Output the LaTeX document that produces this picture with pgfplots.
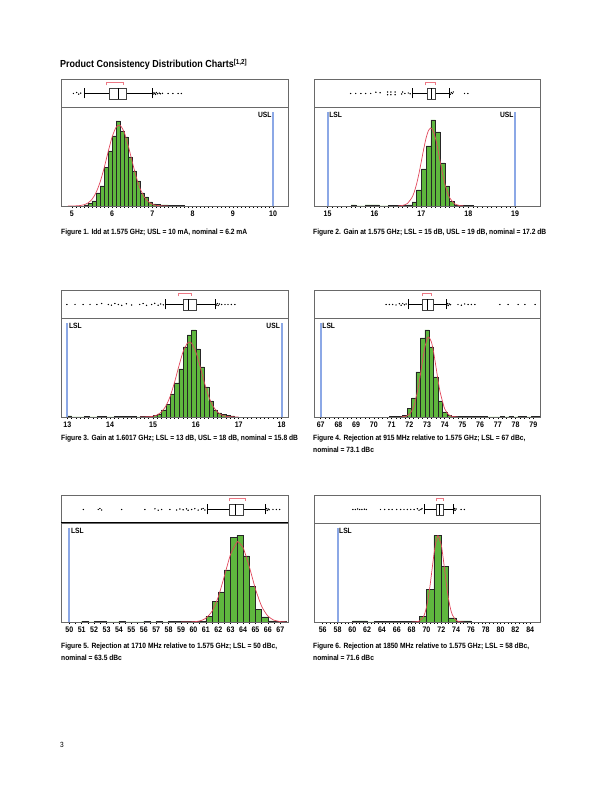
\documentclass[border=0pt]{standalone}
\usepackage{pgfplots}
\pgfplotsset{compat=1.18}
\usepgfplotslibrary{statistics}
\usepackage{fontspec}
\setmainfont{Liberation Sans}[FakeStretch=0.88]
\definecolor{barg}{RGB}{95,183,62}
\definecolor{curvered}{RGB}{226,72,92}
\definecolor{brkred}{RGB}{236,120,132}
\definecolor{specblue}{RGB}{140,168,230}
\definecolor{framegray}{RGB}{105,105,105}
\newcommand\capfont{\bfseries\fontsize{7.6}{9}\selectfont}
\tikzset{spl/.style={font=\bfseries\fontsize{7.6}{9}\selectfont, inner sep=1.5pt}}
\pgfplotsset{
  histax/.style={scale only axis, height=99pt, anchor=south west,
    ymin=0, ymax=99, ytick=\empty,
    axis line style={draw=framegray, line width=0.5pt},
    xtick pos=bottom, tick align=outside,
    major tick length=2.5pt, minor tick length=2pt,
    every tick/.style={black, line width=0.5pt},
    xticklabel style={font=\bfseries\fontsize{8}{9}\selectfont, inner sep=1pt, yshift=-1pt},
    /pgf/number format/assume math mode=true},
  boxax/.style={scale only axis, height=28pt, anchor=south west,
    ymin=0, ymax=28, ytick=\empty, xtick=\empty,
    axis line style={draw=framegray, line width=0.5pt}},
  bars/.style={ybar interval, fill=barg, draw=black!85, line width=0.4pt},
  fit/.style={curvered, line width=0.7pt, smooth, tension=0.4},
  spec/.style={draw=specblue, line width=2pt},
  outl/.style={only marks, mark=*, mark size=0.45pt, black},
  brk/.style={brkred, line width=0.6pt},
  bp/.style={draw=black!75, fill=white, line width=0.5pt,
    boxplot/every whisker/.style={draw=black, line width=1pt},
    boxplot/every median/.style={draw=black, line width=0.6pt}},
}
\begin{document}
\begin{tikzpicture}
\useasboundingbox (0,0) rectangle (612pt,792pt);
\fill[white] (0,0) rectangle (612pt,792pt);
\node[anchor=base west, font=\bfseries\fontsize{10.2}{12}\selectfont, inner sep=0] at (60pt,724pt) {Product Consistency Distribution Charts\textsuperscript{[1,2]}};
\node[anchor=base west, font=\fontsize{7.5}{9}\selectfont, inner sep=0] at (60pt,44pt) {3};

% ---------- Panel 1 ----------
\begin{axis}[histax, at={(61pt,586pt)}, width=227pt, xmin=4.73, xmax=10.37, xtick={5,...,10}, minor x tick num=9]
\addplot[bars] coordinates {(5.3,1) (5.4,2.3) (5.5,5) (5.6,13) (5.7,20) (5.8,38.7) (5.9,55) (6.0,70) (6.1,85) (6.2,75) (6.3,69) (6.4,49) (6.5,35) (6.6,25) (6.7,13) (6.8,9) (6.9,4) (7.0,2) (7.1,1.5) (7.2,1) (7.3,1) (7.4,0.7) (7.5,0.7) (7.6,0.6) (7.7,0.6) (7.8,0)};
\addplot[fit] coordinates {(4.9,0.01) (5.0,0.04) (5.1,0.14) (5.2,0.43) (5.3,1.22) (5.4,3.0) (5.5,6.7) (5.6,13.3) (5.7,23.7) (5.8,37.8) (5.9,54) (6.0,69) (6.1,78.8) (6.2,80.6) (6.3,73.8) (6.4,60.4) (6.5,44.2) (6.6,29) (6.7,17) (6.8,8.9) (6.9,4.2) (7.0,1.76) (7.1,0.66) (7.2,0.22) (7.3,0.07) (7.4,0.02)};
\addplot[spec] coordinates {(10,0) (10,94)};
\node[spl, anchor=north east] at (axis cs:10,95) {USL};
\draw[black, line width=0.8pt] (rel axis cs:0,0) -- (rel axis cs:1,0);
\end{axis}
\begin{axis}[boxax, at={(61pt,685pt)}, width=227pt, xmin=4.73, xmax=10.37]
\addplot[bp, boxplot prepared={draw direction=x, draw position=13.7, box extend=11, whisker extend=10, lower whisker=5.32, lower quartile=5.94, median=6.15, upper quartile=6.36, upper whisker=7.0}] coordinates {};
\addplot[outl] coordinates {(5.04,13.5) (5.12,14.5) (5.17,12.8) (5.22,13.8) (7.02,13) (7.04,14.2) (7.06,13.5) (7.08,12.6) (7.1,14.4) (7.13,13.3) (7.17,13.9) (7.2,13.2) (7.25,13.6) (7.39,13.5) (7.51,13.5) (7.64,13.5) (7.72,13.5)};
\addplot[brk] coordinates {(5.86,21.5) (5.86,24.7) (6.29,24.7) (6.29,21.5)};
\end{axis}
\node[anchor=base west, font=\capfont, inner sep=0] at (61pt,557pt) {Figure 1. Idd at 1.575 GHz; USL = 10 mA, nominal = 6.2 mA};

% ---------- Panel 2 ----------
\begin{axis}[histax, at={(314pt,586pt)}, width=226pt, xmin=14.71, xmax=19.53, xtick={15,...,19}, minor x tick num=9]
\addplot[bars] coordinates {(15.5,1) (15.6,0) (15.8,1) (15.9,1) (16.0,1) (16.1,0) (16.3,0.8) (16.4,0.8) (16.5,0.8) (16.6,0.8) (16.7,1.2) (16.8,4) (16.9,16) (17.0,37) (17.1,60) (17.2,86) (17.3,74) (17.4,43) (17.5,20) (17.6,4.5) (17.7,1.2) (17.8,0.8) (17.9,0.8) (18.0,0.8) (18.1,0)};
\addplot[fit] coordinates {(16.5,0.09) (16.6,0.53) (16.7,2.45) (16.8,8.5) (16.85,14.3) (16.9,22.4) (16.95,32.8) (17.0,44.8) (17.05,57.1) (17.1,67.9) (17.15,75.3) (17.2,78) (17.25,75.3) (17.3,67.9) (17.35,57.1) (17.4,44.8) (17.45,32.8) (17.5,22.4) (17.55,14.3) (17.6,8.5) (17.7,2.45) (17.8,0.53) (17.9,0.09)};
\addplot[spec] coordinates {(15,0) (15,94)};
\addplot[spec] coordinates {(19,0) (19,94)};
\node[spl, anchor=north west] at (axis cs:15,95) {LSL};
\node[spl, anchor=north east] at (axis cs:19,95) {USL};
\draw[black, line width=0.8pt] (rel axis cs:0,0) -- (rel axis cs:1,0);
\end{axis}
\begin{axis}[boxax, at={(314pt,685pt)}, width=226pt, xmin=14.71, xmax=19.53]
\addplot[bp, boxplot prepared={draw direction=x, draw position=13.7, box extend=11, whisker extend=10, lower whisker=16.81, lower quartile=17.115, median=17.21, upper quartile=17.30, upper whisker=17.60}] coordinates {};
\addplot[outl] coordinates {(15.49,13.5) (15.60,13.5) (15.71,13.5) (15.81,13.5) (15.92,13.5) (16.03,14.8) (16.12,14.3) (16.28,12.3) (16.28,15) (16.35,12.3) (16.35,15) (16.44,12.3) (16.44,15) (16.58,13) (16.6,15) (16.65,13.5) (16.72,14) (16.76,13.2) (17.62,12.8) (17.64,14.4) (17.66,13.5) (17.68,15) (17.92,13.5) (17.99,13.5)};
\addplot[brk] coordinates {(17.09,21.5) (17.09,24.7) (17.30,24.7) (17.30,21.5)};
\end{axis}
\node[anchor=base west, font=\capfont, inner sep=0] at (313pt,557pt) {Figure 2. Gain at 1.575 GHz; LSL = 15 dB, USL = 19 dB, nominal = 17.2 dB};

% ---------- Panel 3 ----------
\begin{axis}[histax, at={(61pt,375pt)}, width=227pt, xmin=12.853, xmax=18.15, xtick={13,...,18}, minor x tick num=9]
\addplot[bars] coordinates {(13.0,1) (13.1,0) (13.4,0.8) (13.5,0) (13.7,0.8) (13.8,0.8) (13.9,0) (14.1,0.6) (14.2,0.6) (14.3,0.6) (14.4,0.6) (14.5,0.6) (14.6,0) (14.7,0.8) (14.8,0.8) (14.9,0.8) (15.0,1.3) (15.1,3) (15.2,7) (15.3,12.5) (15.4,23) (15.5,34) (15.6,48) (15.7,70) (15.8,82) (15.9,87) (16.0,68) (16.1,50) (16.2,30) (16.3,16) (16.4,7) (16.5,4) (16.6,2.5) (16.7,1.3) (16.8,1) (16.9,0)};
\addplot[fit] coordinates {(14.7,0.02) (14.9,0.24) (15.0,0.75) (15.1,2.1) (15.2,5.1) (15.3,10.9) (15.4,20.6) (15.5,34.3) (15.6,50.3) (15.7,65) (15.8,73.8) (15.85,75) (15.9,73.8) (16.0,65) (16.1,50.3) (16.2,34.3) (16.3,20.6) (16.4,10.9) (16.5,5.1) (16.6,2.1) (16.7,0.75) (16.8,0.24) (17.0,0.02)};
\addplot[spec] coordinates {(13,0) (13,94)};
\addplot[spec] coordinates {(18,0) (18,94)};
\node[spl, anchor=north west] at (axis cs:13,95) {LSL};
\node[spl, anchor=north east] at (axis cs:18,95) {USL};
\draw[black, line width=0.8pt] (rel axis cs:0,0) -- (rel axis cs:1,0);
\end{axis}
\begin{axis}[boxax, at={(61pt,474pt)}, width=227pt, xmin=12.853, xmax=18.15]
\addplot[bp, boxplot prepared={draw direction=x, draw position=13.7, box extend=11, whisker extend=10, lower whisker=15.28, lower quartile=15.71, median=15.82, upper quartile=16.02, upper whisker=16.46}] coordinates {};
\addplot[outl] coordinates {(12.99,13.5) (13.18,13.5) (13.37,13.5) (13.53,13.5) (13.69,13.5) (13.80,14.5) (13.96,13.5) (14.03,12.8) (14.11,14.5) (14.19,13.5) (14.27,12.6) (14.38,14.2) (14.50,13) (14.69,13.5) (14.77,14.5) (14.85,12.6) (14.97,13.5) (15.04,14.6) (15.12,12.8) (15.18,14) (15.24,13.2) (16.48,13) (16.5,14.5) (16.52,12.6) (16.55,14) (16.60,13.5) (16.68,13.5) (16.75,13.5) (16.83,13.5) (16.91,13.5)};
\addplot[brk] coordinates {(15.58,21.5) (15.58,24.7) (15.89,24.7) (15.89,21.5)};
\end{axis}
\node[anchor=base west, font=\capfont, inner sep=0] at (61pt,351pt) {Figure 3. Gain at 1.6017 GHz; LSL = 13 dB, USL = 18 dB, nominal = 15.8 dB};

% ---------- Panel 4 ----------
\begin{axis}[histax, at={(314pt,375pt)}, width=226pt, xmin=66.62, xmax=79.38, xtick={67,...,79}, minor x tick num=3]
\addplot[bars] coordinates {(70.875,0.7) (71.125,0.7) (71.375,0.7) (71.625,1.7) (71.875,8.3) (72.125,19) (72.375,45) (72.625,79) (72.875,87) (73.125,70) (73.375,40) (73.625,16) (73.875,5) (74.125,1.7) (74.375,0.8) (74.625,0.8) (74.875,0.8) (75.125,0.8) (75.375,0.8) (75.625,0.8) (75.875,0.8) (76.125,0.8) (76.375,0) (77.125,0.8) (77.375,0) (77.625,0.8) (77.875,0) (78.125,0.8) (78.375,0.8) (78.625,0) (78.875,0.8) (79.125,0.8) (79.375,0)};
\addplot[fit] coordinates {(71.5,0.06) (71.75,0.46) (72.0,2.6) (72.25,10.3) (72.5,28.8) (72.625,42.2) (72.75,56.5) (72.875,69.3) (73.0,77.8) (73.1,80) (73.25,75) (73.375,64.6) (73.5,50.8) (73.625,36.6) (73.75,24.2) (74.0,8.1) (74.25,1.9) (74.5,0.3) (74.75,0.04)};
\addplot[spec] coordinates {(67,0) (67,94)};
\node[spl, anchor=north west] at (axis cs:67,95) {LSL};
\draw[black, line width=0.8pt] (rel axis cs:0,0) -- (rel axis cs:1,0);
\end{axis}
\begin{axis}[boxax, at={(314pt,474pt)}, width=226pt, xmin=66.62, xmax=79.38]
\addplot[bp, boxplot prepared={draw direction=x, draw position=13.7, box extend=11, whisker extend=10, lower whisker=71.95, lower quartile=72.71, median=73.01, upper quartile=73.33, upper whisker=74.09}] coordinates {};
\addplot[outl] coordinates {(70.69,13.5) (70.87,13.5) (71.06,13.5) (71.25,13) (71.44,14.3) (71.54,12.8) (71.63,14.5) (71.72,13.2) (71.82,14) (74.12,13) (74.16,14.5) (74.2,12.6) (74.26,14) (74.33,13.3) (74.75,13.5) (74.94,12.8) (75.13,14) (75.32,13.5) (75.51,13.5) (75.7,13.5) (77.11,13.5) (77.58,13.5) (78.15,13.5) (78.53,13.5) (79.1,13.5)};
\addplot[brk] coordinates {(72.71,21.5) (72.71,24.7) (73.24,24.7) (73.24,21.5)};
\end{axis}
\node[anchor=base west, font=\capfont, inner sep=0] at (313pt,351pt) {Figure 4. Rejection at 915 MHz relative to 1.575 GHz; LSL = 67 dBc,};
\node[anchor=base west, font=\capfont, inner sep=0] at (313pt,339pt) {nominal = 73.1 dBc};

% ---------- Panel 5 ----------
\begin{axis}[histax, at={(61pt,170pt)}, width=227pt, xmin=49.33, xmax=67.62, xtick={50,...,67}, minor x tick num=1]
\addplot[bars] coordinates {(51,0.8) (51.5,0) (52,0.8) (52.5,0.8) (53,0) (54,0.8) (54.5,0) (56,0.8) (56.5,0) (57,0.8) (57.5,0) (58,0.6) (58.5,0.6) (59,0.6) (59.5,0.6) (60,0.6) (60.5,0.8) (61,5.5) (61.5,20.5) (62,30) (62.5,52) (63,84.5) (63.5,86.5) (64,66) (64.5,35.5) (65,12.5) (65.5,5) (66,1.2) (66.5,0.8) (67,0.8) (67.5,0)};
\addplot[fit] coordinates {(59,0.01) (59.5,0.04) (60,0.22) (60.5,1.0) (61,3.7) (61.5,10.8) (62,25) (62.5,46.2) (63,67.9) (63.5,79.6) (63.6,80) (64,74.4) (64.5,55.4) (65,32.9) (65.5,15.6) (66,5.9) (66.5,1.8) (67,0.42) (67.5,0.08)};
\addplot[spec] coordinates {(50,0) (50,94)};
\node[spl, anchor=north west] at (axis cs:50,95) {LSL};
\draw[black, line width=0.8pt] (rel axis cs:0,0) -- (rel axis cs:1,0);
\end{axis}
\begin{axis}[boxax, at={(61pt,269pt)}, width=227pt, xmin=49.33, xmax=67.62]
\addplot[bp, boxplot prepared={draw direction=x, draw position=13.7, box extend=11, whisker extend=10, lower whisker=61.1, lower quartile=62.87, median=63.41, upper quartile=64.03, upper whisker=65.8}] coordinates {};
\addplot[outl] coordinates {(51.13,13.5) (52.33,13.5) (52.47,14.5) (52.61,13) (54.22,13.5) (56.09,13.5) (56.9,14.2) (57.16,12.8) (57.43,13.5) (58.1,13.5) (58.64,13) (58.91,14) (59.17,13.2) (59.44,14.2) (59.57,12.8) (59.85,13.5) (60.11,14.3) (60.38,12.9) (60.65,13.8) (60.78,14.5) (60.92,13) (65.82,13) (65.88,14.5) (65.95,12.6) (66.02,14) (66.1,13.3) (66.41,13.5) (66.69,13.5) (66.95,13.5)};
\addplot[brk] coordinates {(62.87,21.5) (62.87,24.7) (64.14,24.7) (64.14,21.5)};
\draw[black, line width=1.1pt] (rel axis cs:0,0) -- (rel axis cs:1,0);
\end{axis}
\node[anchor=base west, font=\capfont, inner sep=0] at (61pt,143pt) {Figure 5. Rejection at 1710 MHz relative to 1.575 GHz; LSL = 50 dBc,};
\node[anchor=base west, font=\capfont, inner sep=0] at (61pt,131pt) {nominal = 63.5 dBc};

% ---------- Panel 6 ----------
\begin{axis}[histax, at={(314pt,170pt)}, width=226pt, xmin=54.83, xmax=85.32, xtick={56,58,...,84}, minor x tick num=3]
\addplot[bars] coordinates {(60,1) (61,1) (62,0) (63,0.8) (64,0.8) (65,0.8) (66,0.8) (67,0.8) (68,0.5) (69,5.5) (70,32.5) (71,86.5) (72,55.5) (73,4) (74,1) (75,1) (76,0)};
\addplot[fit] coordinates {(68,0.01) (68.5,0.11) (69,0.8) (69.5,4.1) (69.75,8) (70,14.6) (70.25,24.4) (70.5,37.2) (70.75,52.2) (71,67) (71.25,79) (71.5,85.4) (71.6,86) (72,77) (72.25,64.2) (72.5,49.1) (72.75,34.4) (73,22.2) (73.25,13.1) (73.5,7.1) (74,1.6) (74.5,0.25) (75,0.03)};
\addplot[spec] coordinates {(58,0) (58,94)};
\node[spl, anchor=north west] at (axis cs:58,95) {LSL};
\draw[black, line width=0.8pt] (rel axis cs:0,0) -- (rel axis cs:1,0);
\end{axis}
\begin{axis}[boxax, at={(314pt,269pt)}, width=226pt, xmin=54.83, xmax=85.32]
\addplot[bp, boxplot prepared={draw direction=x, draw position=13.7, box extend=11, whisker extend=10, lower whisker=69.69, lower quartile=71.28, median=71.73, upper quartile=72.23, upper whisker=73.67}] coordinates {};
\addplot[outl] coordinates {(60.08,13.5) (60.4,13.5) (60.72,14) (60.99,13.5) (61.3,13.5) (61.63,13.8) (61.9,13.5) (63.8,13.5) (64.35,13.5) (64.93,13.5) (65.38,13.5) (65.98,13.5) (66.52,13.5) (66.97,13.5) (67.42,13.5) (67.88,13.5) (68.33,13.5) (68.78,14.2) (69.0,12.8) (69.24,13.5) (69.4,14.3) (73.72,13) (73.8,14.5) (73.88,12.7) (74.0,14) (74.68,13.5) (75.12,13.5)};
\addplot[brk] coordinates {(71.36,21.5) (71.36,24.7) (72.31,24.7) (72.31,21.5)};
\end{axis}
\node[anchor=base west, font=\capfont, inner sep=0] at (313pt,143pt) {Figure 6. Rejection at 1850 MHz relative to 1.575 GHz; LSL = 58 dBc,};
\node[anchor=base west, font=\capfont, inner sep=0] at (313pt,131pt) {nominal = 71.6 dBc};
\end{tikzpicture}
\end{document}
